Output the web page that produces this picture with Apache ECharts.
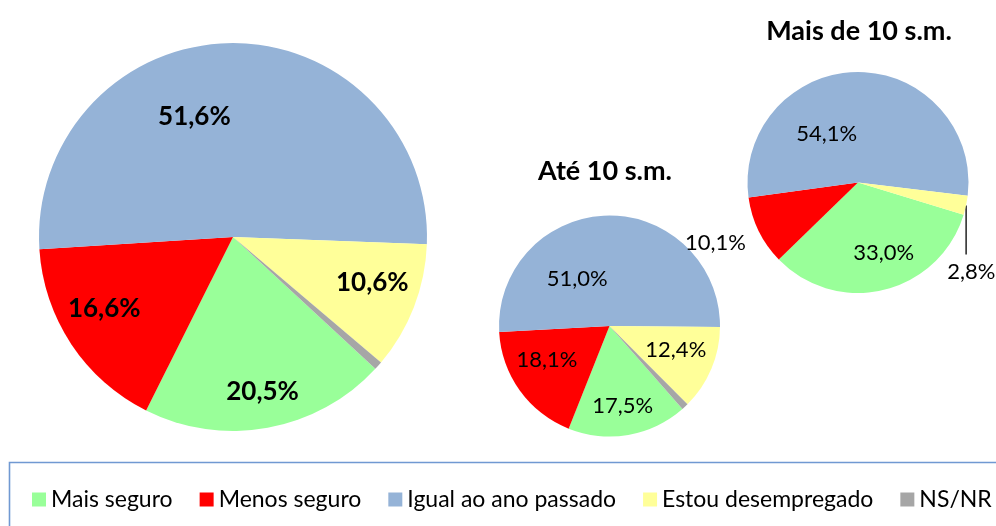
<!DOCTYPE html>
<html><head><meta charset="utf-8">
<script src="https://cdn.jsdelivr.net/npm/echarts@6/dist/echarts.min.js"></script>
<style>html,body{margin:0;padding:0;background:#fff}#c{width:996px;height:526px}</style>
</head><body><div id="c"></div>
<script>
const categories = ['Mais seguro', 'Menos seguro', 'Igual ao ano passado', 'Estou desempregado', 'NS/NR'];
const totalValues = [20.5, 16.6, 51.6, 10.6, 0.7];
const ate10Values = [17.5, 18.1, 51.0, 12.4, 1.0];
const mais10Values = [33.0, 10.1, 54.1, 2.8, 0];
const pieTitles = ['Até 10 s.m.', 'Mais de 10 s.m.'];
const colors = ['#99ff99', '#ff0000', '#95b3d7', '#ffff99', '#a6a6a6'];

const FONT = 'Lato, "Open Sans", sans-serif';
function fmt(v) { return v.toFixed(1).replace('.', ',') + '%'; }

function pieSeries(values, cfg) {
  return {
    type: 'pie',
    center: cfg.center,
    radius: cfg.radius,
    startAngle: cfg.startAngle,
    clockwise: true,
    avoidLabelOverlap: false,
    animation: false,
    silent: true,
    emphasis: { disabled: true },
    itemStyle: { borderWidth: 0 },
    label: {
      show: true, position: 'inside', formatter: p => fmt(p.value),
      color: '#000', fontFamily: FONT, fontSize: cfg.fontSize, fontWeight: cfg.fontWeight
    },
    labelLine: { show: false },
    data: values.map((v, i) => {
      const item = { name: categories[i], value: v };
      if (cfg.hide.indexOf(i) >= 0) item.label = { show: false };
      if (cfg.outside === i) {
        item.label = { position: 'outside' };
        item.labelLine = { show: true, length: 10, length2: 10, lineStyle: { color: '#000', width: 1.3 } };
      }
      return item;
    }),
    labelLayout: function (p) {
      if (p.dataIndex === cfg.outside && p.labelLinePoints) {
        const p0 = p.labelLinePoints[0];
        return {
          x: p0[0] + 5.2, y: p0[1] + 67, align: 'center', verticalAlign: 'middle',
          labelLinePoints: [p0, [p0[0], p0[1] + 49]]
        };
      }
      const off = cfg.offsets[p.dataIndex];
      if (!off) return {};
      const r = p.labelRect;
      return { x: r.x + r.width / 2 + off[0], y: r.y + r.height / 2 + off[1], align: 'center', verticalAlign: 'middle' };
    }
  };
}

const chart = echarts.init(document.getElementById('c'), null, { renderer: 'canvas' });
chart.setOption({
  animation: false,
  color: colors,
  textStyle: { fontFamily: FONT },
  legend: {
    data: categories,
    left: 32, top: 488, width: 962, padding: 0,
    icon: 'rect', itemWidth: 14, itemHeight: 14, itemGap: 27,
    textStyle: { fontFamily: FONT, fontSize: 23, color: '#000' },
    selectedMode: false
  },
  graphic: [
    { type: 'rect', shape: { x: 9.5, y: 462.5, width: 1000, height: 100 }, style: { fill: 'none', stroke: '#7099d2', lineWidth: 1.6 }, silent: true },
    { type: 'text', x: 605, y: 171, style: { text: pieTitles[0], font: 'bold 27px ' + FONT, fill: '#000', textAlign: 'center', textVerticalAlign: 'middle' }, silent: true },
    { type: 'text', x: 859, y: 31, style: { text: pieTitles[1], font: 'bold 27px ' + FONT, fill: '#000', textAlign: 'center', textVerticalAlign: 'middle' }, silent: true }
  ],
  series: [
    pieSeries(totalValues, {
      center: [233, 237], radius: 194, startAngle: -42.8, fontSize: 26, fontWeight: 'bold',
      hide: [4], outside: -1,
      offsets: [[11.7, 56.6], [-45.4, 16.2], [-37.3, -20], [46.1, 9.9], null]
    }),
    pieSeries(ate10Values, {
      center: [609.5, 326], radius: 110.5, startAngle: -48.7, fontSize: 22, fontWeight: 'normal',
      hide: [4], outside: -1,
      offsets: [[3.3, 22.9], [-15.3, 0], [-31, 10.9], [12.6, 0.9], null]
    }),
    pieSeries(mais10Values, {
      center: [858, 182.5], radius: 110.5, startAngle: -17.0, fontSize: 22, fontWeight: 'normal',
      hide: [4], outside: 3,
      offsets: [[12, 13.8], [-90.1, 35], [-30.9, 9.45], null, null]
    })
  ]
});
</script>
</body></html>
